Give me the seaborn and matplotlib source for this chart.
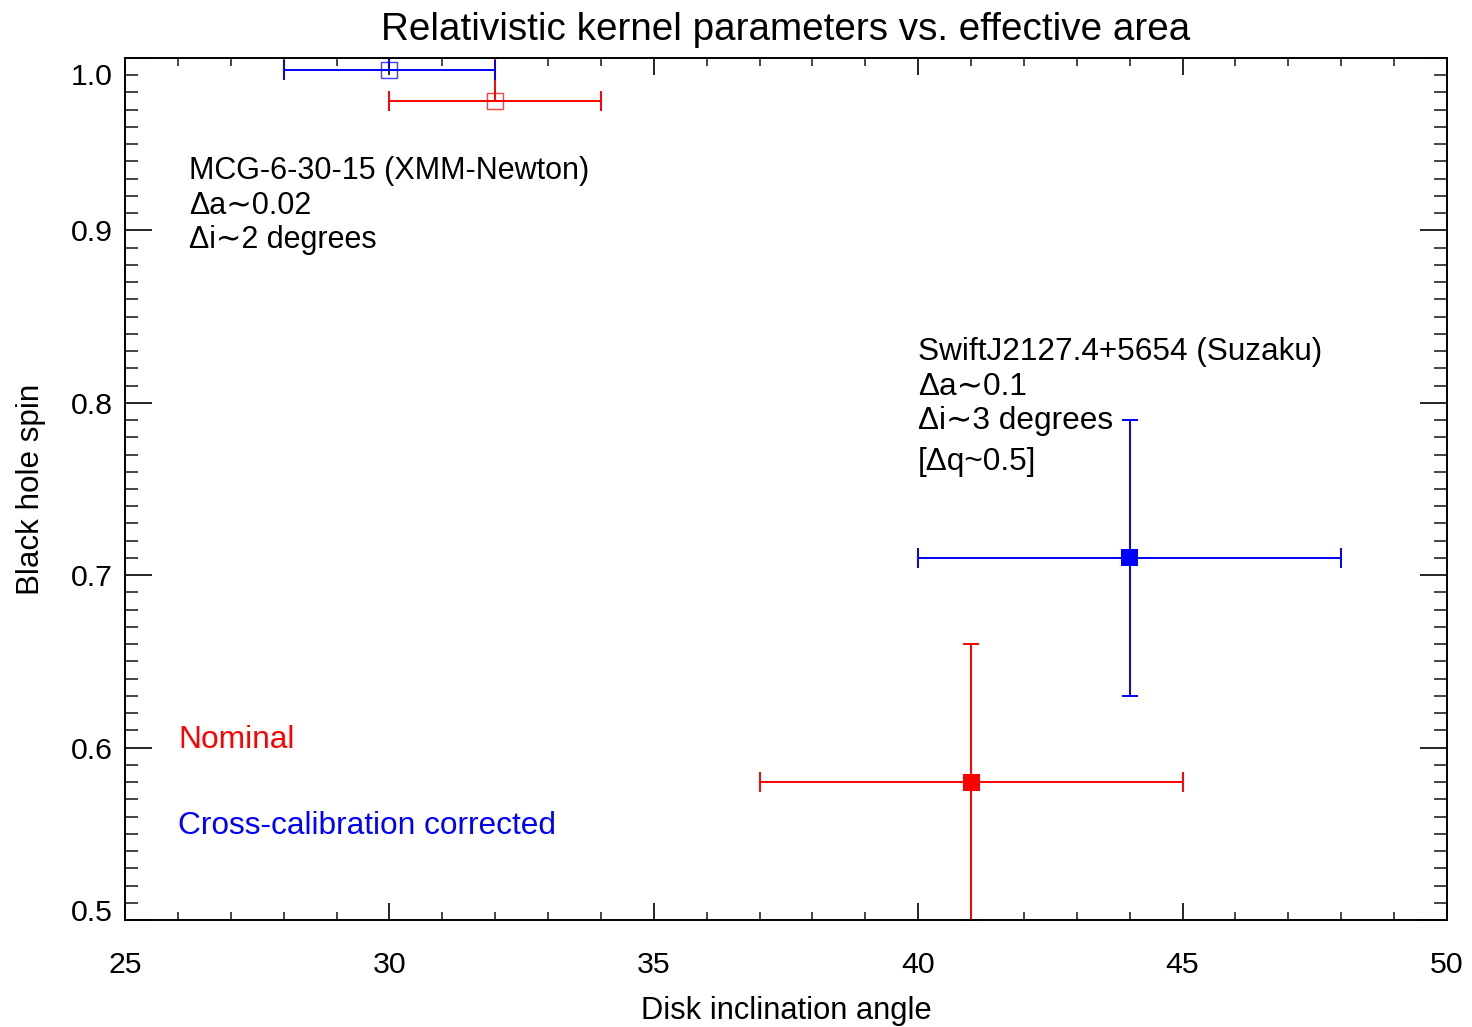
import numpy as np
import pandas as pd
import matplotlib
matplotlib.use("Agg")
import matplotlib.pyplot as plt
import matplotlib.transforms as mtransforms
from matplotlib.ticker import MultipleLocator, FixedLocator
import seaborn as sns

# ---------------- data ----------------
sources = ["MCG-6-30-15", "MCG-6-30-15", "SwiftJ2127.4+5654", "SwiftJ2127.4+5654"]
calib = ["Nominal", "Cross-calibration corrected", "Nominal", "Cross-calibration corrected"]
inclination = [32.0, 30.0, 41.0, 44.0]
incl_lo = [30.0, 28.0, 37.0, 40.0]
incl_hi = [34.0, 32.0, 45.0, 48.0]
spin = [0.975, 0.993, 0.58, 0.71]
spin_lo = [0.975, 0.993, 0.50, 0.63]
spin_hi = [1.0, 1.0, 0.66, 0.79]

x_ticks = [25, 30, 35, 40, 45, 50]
y_ticks = [0.5, 0.6, 0.7, 0.8, 0.9, 1.0]
y_tick_labels = ["0.5", "0.6", "0.7", "0.8", "0.9", "1.0"]

df = pd.DataFrame({
    "source": sources, "calib": calib,
    "incl": inclination, "incl_lo": incl_lo, "incl_hi": incl_hi,
    "spin": spin, "spin_lo": spin_lo, "spin_hi": spin_hi,
})

# ---------------- style ----------------
sns.set_theme(style="ticks")
plt.rcParams["font.family"] = ["Liberation Sans", "DejaVu Sans"]
plt.rcParams["axes.linewidth"] = 1.4

colors = {"Nominal": "#ff0000", "Cross-calibration corrected": "#0000ff"}

fig = plt.figure(figsize=(14.72, 10.27), dpi=100)
ax = fig.add_axes([125 / 1472, 1 - 920 / 1027, (1447 - 125) / 1472, (920 - 58) / 1027])

for _, r in df.iterrows():
    c = colors[r["calib"]]
    xerr = [[r["incl"] - r["incl_lo"]], [r["incl_hi"] - r["incl"]]]
    yerr = [[r["spin"] - r["spin_lo"]], [r["spin_hi"] - r["spin"]]]
    ax.errorbar([r["incl"]], [r["spin"]], xerr=xerr, fmt="none", ecolor=c,
                elinewidth=1.4, capsize=7.5, capthick=1.4, zorder=2)
    if (r["spin_hi"] - r["spin_lo"]) > 0:
        ax.errorbar([r["incl"]], [r["spin"]], yerr=yerr, fmt="none", ecolor=c,
                    elinewidth=1.4, capsize=5.8, capthick=1.4, zorder=2)

mcg = df[df["source"] == "MCG-6-30-15"]
swift = df[df["source"] != "MCG-6-30-15"]
for _, r in mcg.iterrows():
    ax.plot([r["incl"]], [r["spin"]], marker="s", ms=11, mfc="none",
            mec=colors[r["calib"]], mew=1.0, alpha=0.75, ls="none", zorder=3)
sns.scatterplot(data=swift, x="incl", y="spin", hue="calib", palette=colors,
                marker="s", s=150, edgecolor="none", legend=False, ax=ax, zorder=3)

ax.set_xlim(25, 50)
ax.set_ylim(0.5, 1.0)
ax.xaxis.set_major_locator(FixedLocator(x_ticks))
ax.xaxis.set_minor_locator(MultipleLocator(1))
ax.set_yticks(y_ticks)
ax.set_yticklabels(y_tick_labels)
ax.yaxis.set_minor_locator(MultipleLocator(0.01))

ax.tick_params(axis="x", which="major", direction="in", length=12.2, width=1.2,
               top=True, bottom=True, labelsize=21.8, pad=22.5, colors="black")
ax.tick_params(axis="x", which="minor", direction="in", length=5.8, width=1.2,
               top=True, bottom=True)
ax.tick_params(axis="y", which="major", direction="in", length=19.4, width=1.2,
               left=True, right=True, labelsize=21.8, pad=8.6, colors="black")
ax.tick_params(axis="y", which="minor", direction="in", length=9.4, width=1.2,
               left=True, right=True)
for s in ax.spines.values():
    s.set_color("black")
    s.set_linewidth(1.4)

ax.set_xlabel("Disk inclination angle", fontsize=22.2, labelpad=12, color="black")
ax.set_ylabel("Black hole spin", fontsize=22.6, labelpad=18, color="black")
ax.set_title("Relativistic kernel parameters vs. effective area", fontsize=27.8,
             pad=13, color="black")

# shift end labels inward like the original
fig.canvas.draw()
yt = ax.yaxis.get_major_ticks()
yt[-1].label1.set_transform(yt[-1].label1.get_transform() +
                            mtransforms.ScaledTranslation(0, -0.16, fig.dpi_scale_trans))
yt[0].label1.set_transform(yt[0].label1.get_transform() +
                           mtransforms.ScaledTranslation(0, 0.10, fig.dpi_scale_trans))

fam = ["Liberation Sans", "DejaVu Sans"]
dy = -0.0017
mcg_lines = ["MCG-6-30-15 (XMM-Newton)", "Δa∼0.02", "Δi∼2 degrees"]
for txt, yy in zip(mcg_lines, [0.9362, 0.9159, 0.8962]):
    ax.text(26.21, yy + dy, txt, fontsize=22.0, va="center", ha="left", color="black", family=fam)
swift_lines = ["SwiftJ2127.4+5654 (Suzaku)", "Δa∼0.1", "Δi∼3 degrees", "[Δq~0.5]"]
for txt, yy in zip(swift_lines, [0.8312, 0.8109, 0.7912, 0.7674]):
    ax.text(40.0, yy + dy, txt, fontsize=22.7, va="center", ha="left", color="black", family=fam)
ax.text(26.0, 0.6061 + dy, "Nominal", fontsize=22.8, va="center", ha="left",
        color="#ff0000", family=fam)
ax.text(26.0, 0.5563 + dy, "Cross-calibration corrected", fontsize=22.8, va="center",
        ha="left", color="#0000ff", family=fam)

fig.savefig("out.png", dpi=100)
